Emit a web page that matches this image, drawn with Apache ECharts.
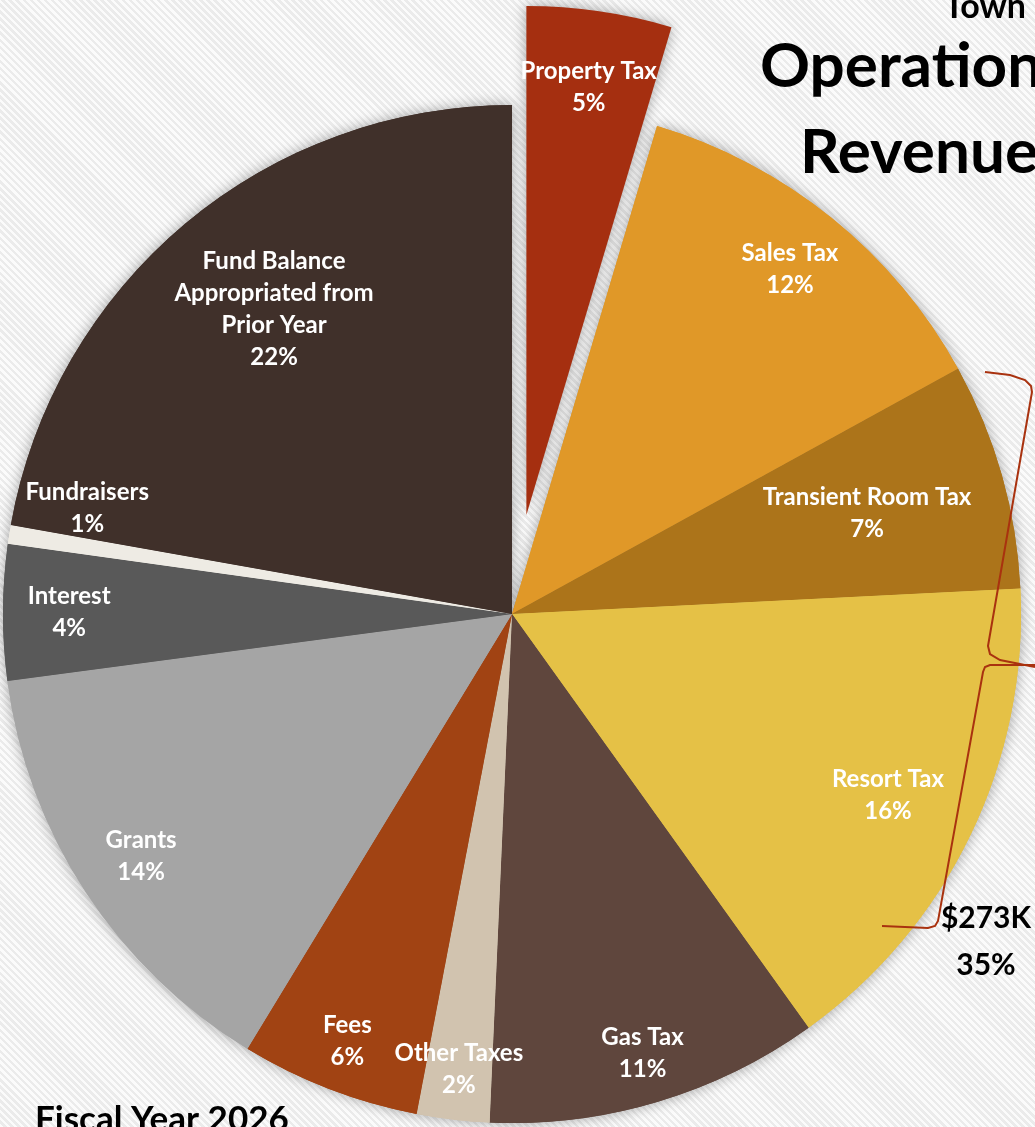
<!DOCTYPE html>
<html>
<head>
<meta charset="utf-8">
<script src="https://cdn.jsdelivr.net/npm/echarts@6/dist/echarts.min.js"></script>
<style>
  html, body { margin: 0; padding: 0; }
  body {
    width: 1035px; height: 1127px; overflow: hidden;
    background: repeating-linear-gradient(45deg, #fbfbfb 0px, #fbfbfb 2.5px, #ebebeb 2.5px, #ebebeb 5px);
  }
  #chart { width: 1035px; height: 1127px; }
</style>
</head>
<body>
<div id="chart"></div>
<script>
// revenue shares, clockwise from 12 o'clock
const categories = [
  "Property Tax", "Sales Tax", "Transient Room Tax", "Resort Tax", "Gas Tax",
  "Other Taxes", "Fees", "Grants", "Interest", "Fundraisers",
  "Fund Balance\nAppropriated from\nPrior Year"
];
const shares = [4.6, 12.4, 7.2, 15.9, 10.6, 2.3, 5.7, 14.2, 4.3, 0.6, 22.2];
const colors = [
  "#A52F10", "#E09828", "#AC741A", "#E5C146", "#5F463D",
  "#D1C3AF", "#A14313", "#A5A5A5", "#595959", "#EEEBE4", "#40302A"
];
// label placement: fraction of radius, and small turn (degrees) off the slice middle
const labelRadius = [0.85, 0.87, 0.725, 0.82, 0.9, 0.9, 0.9, 0.87, 0.87, 0.86, 0.76];
const labelTurn = [0, 0, 0, 0, 0, 0, 0, 0, 0, 5, 2];
const callout = ["$273K", "35%"];

const CX = 512, CY = 614, R = 509, EXPLODE = 100;
const EXPLODED = 0; // Property Tax is pulled out
const FONT = "Lato, 'Open Sans', sans-serif";
const CLEAR = "rgba(0,0,0,0)";

const total = shares.reduce((a, b) => a + b, 0);
const cum = [];
shares.reduce((acc, v, i) => { cum[i] = acc; return acc + v; }, 0);
const midAngle = i => (cum[i] + shares[i] / 2) / total * Math.PI * 2;

const ex = EXPLODE * Math.sin(midAngle(EXPLODED));
const ey = -EXPLODE * Math.cos(midAngle(EXPLODED));

// visible(i) decides which slices a series paints
function pieData(visible, withLabels) {
  return categories.map((name, i) => ({
    name: name,
    value: shares[i],
    itemStyle: { color: visible(i) ? colors[i] : CLEAR },
    label: { show: withLabels && visible(i) },
  }));
}

function layoutAt(cx, cy) {
  return function (p) {
    const i = p.dataIndex;
    const a = midAngle(i) + labelTurn[i] * Math.PI / 180;
    return {
      x: cx + labelRadius[i] * R * Math.sin(a),
      y: cy - labelRadius[i] * R * Math.cos(a),
    };
  };
}

const labelStyle = {
  show: true,
  position: "inside",
  formatter: "{b}\n{d}%",
  color: "#fff",
  fontFamily: FONT,
  fontWeight: "bold",
  fontSize: 24,
  lineHeight: 32,
  align: "center",
};

const common = {
  type: "pie",
  radius: R,
  startAngle: 90,
  clockwise: true,
  avoidLabelOverlap: false,
  percentPrecision: 0,
  emphasis: { scale: false },
  labelLine: { show: false },
};

const shadow = { shadowBlur: 14, shadowColor: "rgba(0,0,0,0.35)" };
const brace = { fill: null, stroke: "#A9320F", lineWidth: 2 };

const chart = echarts.init(document.getElementById("chart"), null, { renderer: "canvas" });

chart.setOption({
  animation: false,
  series: [
    Object.assign({}, common, {
      name: "shadow",
      center: [CX, CY],
      silent: true,
      z: 1,
      label: { show: false },
      itemStyle: shadow,
      data: pieData(i => i !== EXPLODED, false),
    }),
    Object.assign({}, common, {
      name: "Revenue",
      center: [CX, CY],
      z: 2,
      label: labelStyle,
      labelLayout: layoutAt(CX, CY),
      data: pieData(i => i !== EXPLODED, true),
    }),
    Object.assign({}, common, {
      name: "Revenue (pulled out)",
      center: [CX + ex, CY + ey],
      z: 3,
      label: labelStyle,
      labelLayout: layoutAt(CX + ex, CY + ey),
      itemStyle: shadow,
      data: pieData(i => i === EXPLODED, true),
    }),
  ],
  graphic: [
    { type: "text", x: 944, y: -10, z: 10,
      style: { text: "Town", font: "bold 34px " + FONT, fill: "#000" } },
    { type: "text", x: 760, y: 36, z: 10,
      style: { text: "Operations", font: "bold 62px " + FONT, fill: "#000" } },
    { type: "text", x: 800, y: 122, z: 10,
      style: { text: "Revenue", font: "bold 62px " + FONT, fill: "#000" } },
    { type: "text", x: 35, y: 1102, z: 10,
      style: { text: "Fiscal Year 2026", font: "bold 35px " + FONT, fill: "#000" } },
    { type: "text", x: 986, y: 918, z: 10,
      style: { text: callout[0], font: "bold 30px " + FONT, fill: "#000", align: "center", verticalAlign: "middle" } },
    { type: "text", x: 986, y: 965, z: 10,
      style: { text: callout[1], font: "bold 30px " + FONT, fill: "#000", align: "center", verticalAlign: "middle" } },
    { type: "polyline", z: 10, silent: true,
      shape: { points: [[985, 372], [1010, 375], [1025, 380], [1031, 386], [1032, 392],
                        [988, 646], [990, 654], [1000, 660], [1035, 667]] },
      style: brace },
    { type: "polyline", z: 10, silent: true,
      shape: { points: [[1035, 665], [990, 665], [985, 667], [983, 672],
                        [938, 921], [935, 926], [928, 928], [882, 926]] },
      style: brace },
  ],
});
</script>
</body>
</html>
